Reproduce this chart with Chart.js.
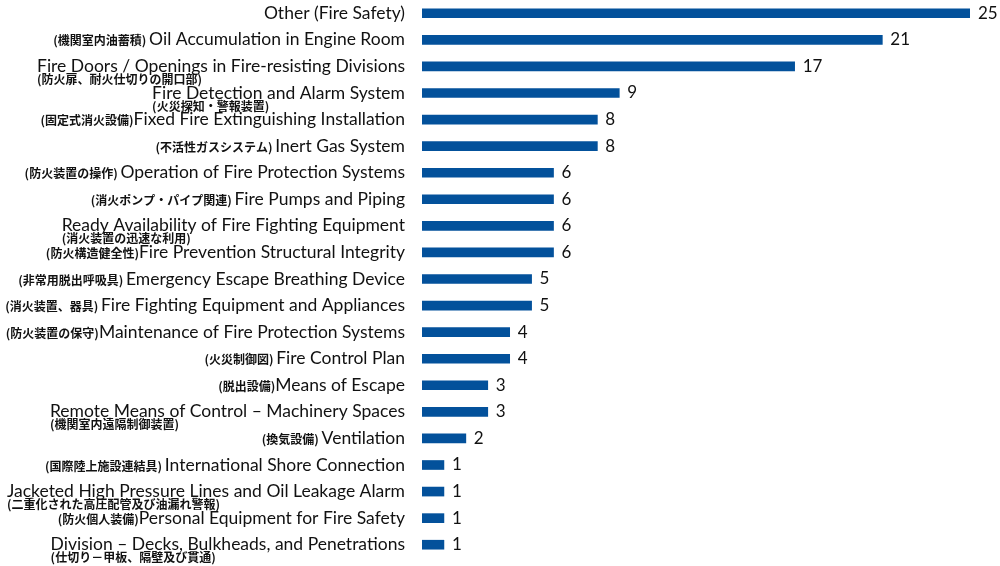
<!DOCTYPE html>
<html>
<head>
<meta charset="utf-8">
<title>Fire safety deficiencies</title>
<script src="https://cdn.jsdelivr.net/npm/chart.js@4.4.1/dist/chart.umd.min.js"></script>
<style>
    html, body { margin: 0; padding: 0; background: #fff; }
    canvas { display: block; }
</style>
</head>
<body>
<canvas id="chartDeficiencias" width="1000" height="566"></canvas>
<script>
(function () {
    'use strict';

    // =================== Datos ===================

    const labelsEn = [
        'Other (Fire Safety)',
        'Oil Accumulation in Engine Room',
        'Fire Doors / Openings in Fire-resisting Divisions',
        'Fire Detection and Alarm System',
        'Fixed Fire Extinguishing Installation',
        'Inert Gas System',
        'Operation of Fire Protection Systems',
        'Fire Pumps and Piping',
        'Ready Availability of Fire Fighting Equipment',
        'Fire Prevention Structural Integrity',
        'Emergency Escape Breathing Device',
        'Fire Fighting Equipment and Appliances',
        'Maintenance of Fire Protection Systems',
        'Fire Control Plan',
        'Means of Escape',
        'Remote Means of Control \u2013 Machinery Spaces',
        'Ventilation',
        'International Shore Connection',
        'Jacketed High Pressure Lines and Oil Leakage Alarm',
        'Personal Equipment for Fire Safety',
        'Division \u2013 Decks, Bulkheads, and Penetrations'
    ];

    const labelsJa = [
        '',
        '(機関室内油蓄積) ',
        '(防火扉、耐火仕切りの開口部)',
        '(火災探知・警報装置)',
        '(固定式消火設備)',
        '(不活性ガスシステム) ',
        '(防火装置の操作) ',
        '(消火ポンプ・パイプ関連) ',
        '(消火装置の迅速な利用)',
        '(防火構造健全性)',
        '(非常用脱出呼吸具) ',
        '(消火装置、器具) ',
        '(防火装置の保守)',
        '(火災制御図) ',
        '(脱出設備)',
        '(機関室内遠隔制御装置)',
        '(換気設備) ',
        '(国際陸上施設連結具) ',
        '(二重化された高圧配管及び油漏れ警報)',
        '(防火個人装備)',
        '(仕切り－甲板、隔壁及び貫通)'
    ];

    const counts = [25, 21, 17, 9, 8, 8, 6, 6, 6, 6, 5, 5, 4, 4, 3, 3, 2, 1, 1, 1, 1];

    // filas donde la nota japonesa va debajo del nombre en inglés
    const twoLineRows = [2, 3, 8, 15, 18, 20];

    const xMax = 25;

    // =================== Estilos ===================

    const BAR_COLOR = '#03519b';
    const TEXT_COLOR = '#111';
    const FONT_EN = '17.5px Lato, "Noto Sans", sans-serif';
    const FONT_JA = 'bold 12px "Noto Sans CJK JP", sans-serif';
    const FONT_VALUE = '17px Lato, "Noto Sans", sans-serif';

    // =================== Etiquetas dibujadas a mano ===================

    const labelPlugin = {
        id: 'labelsBilingues',
        afterDatasetsDraw(chart) {
            const ctx = chart.ctx;
            const yScale = chart.scales.y;
            const xScale = chart.scales.x;
            const rightX = chart.chartArea.left - 17;

            ctx.save();
            ctx.fillStyle = TEXT_COLOR;
            ctx.textBaseline = 'middle';

            labelsEn.forEach(function (en, i) {
                const y = yScale.getPixelForValue(i);
                const ja = labelsJa[i];

                ctx.font = FONT_EN;
                ctx.textAlign = 'right';
                ctx.fillText(en, rightX, y);
                const wEn = ctx.measureText(en).width;

                if (!ja) return;
                ctx.font = FONT_JA;
                if (twoLineRows.indexOf(i) >= 0) {
                    ctx.textAlign = 'left';
                    ctx.fillText(ja, rightX - wEn, y + 13);
                } else {
                    ctx.textAlign = 'right';
                    ctx.fillText(ja, rightX - wEn, y + 1);
                }
            });

            // valores al final de cada barra
            ctx.font = FONT_VALUE;
            ctx.textAlign = 'left';
            counts.forEach(function (v, i) {
                const x = xScale.getPixelForValue(v) + 8;
                const y = yScale.getPixelForValue(i);
                ctx.fillText(String(v), x, y);
            });

            ctx.restore();
        }
    };

    // =================== Chart ===================

    const canvas = document.getElementById('chartDeficiencias');
    const ctx = canvas.getContext('2d');

    new Chart(ctx, {
        type: 'bar',
        data: {
            labels: labelsEn,
            datasets: [{
                data: counts,
                backgroundColor: BAR_COLOR,
                borderWidth: 0,
                barThickness: 9
            }]
        },
        options: {
            indexAxis: 'y',
            responsive: false,
            animation: false,
            layout: {
                padding: { left: 422, right: 30, top: 0, bottom: 8 }
            },
            plugins: {
                legend: { display: false },
                tooltip: { enabled: false }
            },
            scales: {
                x: { display: false, min: 0, max: xMax },
                y: { display: false }
            }
        },
        plugins: [labelPlugin]
    });
})();
</script>
</body>
</html>
